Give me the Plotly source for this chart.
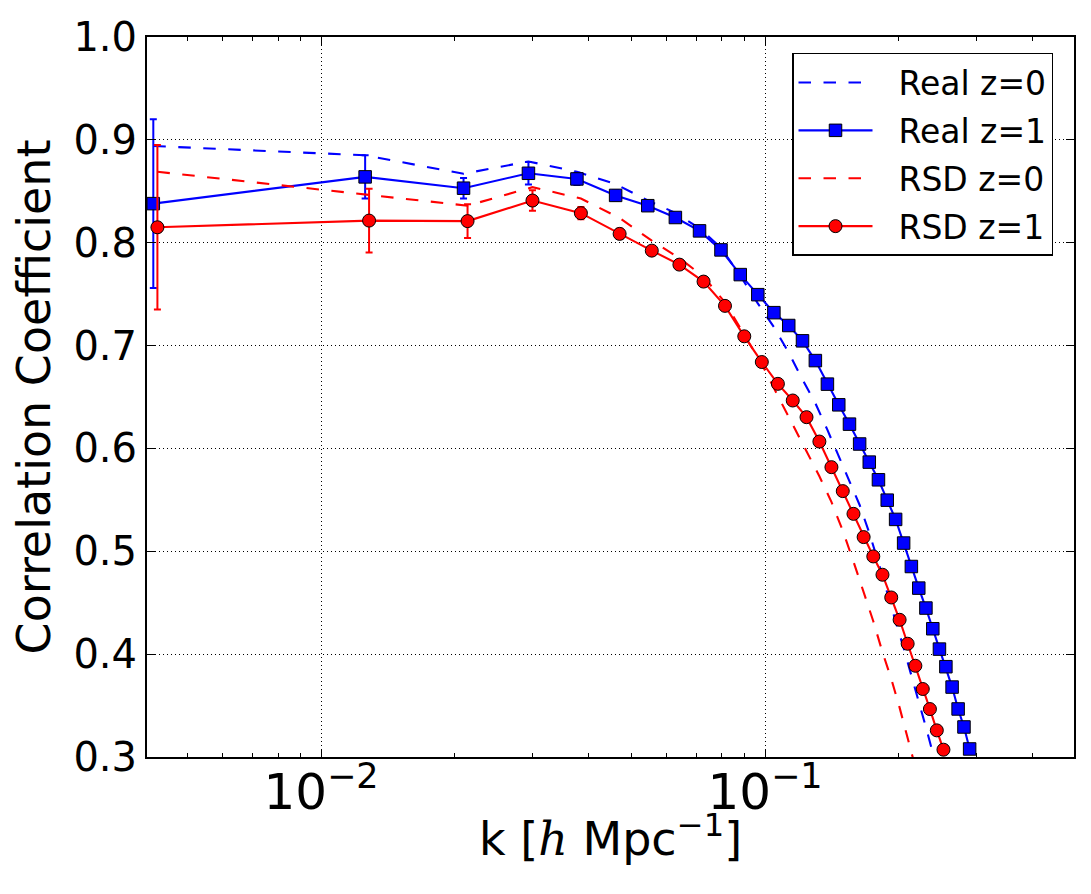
import plotly.graph_objects as go

# wavenumber bins k [h/Mpc] (real-space series)
k = [0.00419, 0.01257, 0.02094, 0.02932, 0.03770, 0.04608, 0.05445, 0.06283,
     0.07121, 0.07959, 0.08796, 0.09634, 0.10472, 0.11310, 0.12147, 0.12985,
     0.13823, 0.14661, 0.15498, 0.16336, 0.17174, 0.18012, 0.18850, 0.19687,
     0.20525, 0.21363, 0.22201, 0.23038, 0.23876, 0.24714, 0.25552, 0.26389,
     0.27227, 0.28065, 0.28903]

# RSD series are plotted with a slight offset in k
k_rsd = [0.00428, 0.01283, 0.02138, 0.02994, 0.03849, 0.04705, 0.05559, 0.06415,
         0.07271, 0.08126, 0.08981, 0.09836, 0.10692, 0.11548, 0.12402, 0.13258,
         0.14113, 0.14969, 0.15823, 0.16679, 0.17535, 0.18390, 0.19246, 0.20100,
         0.20956, 0.21812, 0.22667, 0.23522, 0.24377, 0.25233]

real_z0 = [0.894, 0.885, 0.867, 0.879, 0.869, 0.857, 0.841, 0.829, 0.814, 0.795,
           0.768, 0.741, 0.718, 0.693, 0.667, 0.644, 0.618, 0.593, 0.568, 0.545,
           0.518, 0.489, 0.459, 0.432, 0.406, 0.380, 0.355, 0.329, 0.304, 0.278]

real_z1 = [0.838, 0.864, 0.853, 0.8675, 0.862, 0.846, 0.836, 0.8245, 0.8115, 0.793,
           0.769, 0.7495, 0.732, 0.7195, 0.7046, 0.6854, 0.6625, 0.6424, 0.6236, 0.6043,
           0.5867, 0.5695, 0.5497, 0.531, 0.508, 0.4852, 0.4642, 0.4448, 0.4247, 0.4049,
           0.3878, 0.368, 0.3467, 0.3292, 0.3078]
real_z1_err = [0.082, 0.021, 0.010, 0.011, 0.006, 0.005, 0.004, 0.004, 0.003, 0.003,
               0.003, 0.003, 0.002, 0.002, 0.002, 0.002, 0.002, 0.002, 0.002, 0.002,
               0.002, 0.002, 0.002, 0.002, 0.002, 0.002, 0.002, 0.002, 0.002, 0.002,
               0.002, 0.002, 0.002, 0.002, 0.002]

rsd_z0 = [0.869, 0.8465, 0.836, 0.854, 0.843, 0.824, 0.802, 0.785, 0.767, 0.742,
          0.711, 0.682, 0.651, 0.623, 0.597, 0.573, 0.548, 0.520, 0.490, 0.460,
          0.432, 0.402, 0.376, 0.348, 0.318, 0.290]

rsd_z1 = [0.815, 0.8215, 0.821, 0.841, 0.8287, 0.8086, 0.7923, 0.7787, 0.7622, 0.7386,
          0.709, 0.684, 0.6628, 0.6466, 0.6304, 0.6067, 0.5818, 0.5585, 0.5364, 0.5138,
          0.495, 0.4772, 0.4551, 0.4334, 0.4101, 0.3887, 0.3661, 0.3466, 0.3259, 0.3071]
rsd_z1_err = [0.080, 0.031, 0.0165, 0.010, 0.006, 0.005, 0.004, 0.004, 0.003, 0.003,
              0.003, 0.003, 0.002, 0.002, 0.002, 0.002, 0.002, 0.002, 0.002, 0.002,
              0.002, 0.002, 0.002, 0.002, 0.002, 0.002, 0.002, 0.002, 0.002, 0.002]

y_ticks = [0.3, 0.4, 0.5, 0.6, 0.7, 0.8, 0.9, 1.0]

BLUE = "#0000ff"
RED = "#ff0000"
FONT = "DejaVu Sans"
DASH = "12.5px,12.5px"
PAD = "\u00a0\u00a0"

fig = go.Figure()
fig.add_trace(go.Scatter(
    x=k[:len(real_z0)], y=real_z0, mode="lines", name=PAD + "Real z=0",
    line=dict(color=BLUE, width=2.1, dash=DASH), legendgroup="a"))
fig.add_trace(go.Scatter(
    x=k[:len(real_z1)], y=real_z1, mode="lines+markers", name=PAD + "Real z=1",
    line=dict(color=BLUE, width=2.1),
    marker=dict(symbol="square", size=12.5, color=BLUE, line=dict(color="black", width=1)),
    error_y=dict(type="data", array=real_z1_err, color=BLUE, thickness=2, width=3.5),
    legendgroup="b"))
fig.add_trace(go.Scatter(
    x=k_rsd[:len(rsd_z0)], y=rsd_z0, mode="lines", name=PAD + "RSD z=0",
    line=dict(color=RED, width=2.1, dash=DASH), legendgroup="c"))
fig.add_trace(go.Scatter(
    x=k_rsd[:len(rsd_z1)], y=rsd_z1, mode="lines+markers", name=PAD + "RSD z=1",
    line=dict(color=RED, width=2.1),
    marker=dict(symbol="circle", size=13, color=RED, line=dict(color="black", width=1)),
    error_y=dict(type="data", array=rsd_z1_err, color=RED, thickness=2, width=3.5),
    legendgroup="d"))

axis_common = dict(
    showline=True, linewidth=2, linecolor="black", mirror="ticks",
    ticks="inside", ticklen=8, tickwidth=1, tickcolor="black",
    showgrid=True, gridcolor="black", gridwidth=1, griddash="1px,3px",
    zeroline=False, tickfont=dict(family=FONT, size=40, color="black"),
)

fig.update_layout(
    width=1091, height=894,
    margin=dict(l=147, r=17, t=37, b=137),
    paper_bgcolor="white", plot_bgcolor="white",
    font=dict(family=FONT, color="black"),
    xaxis=dict(
        type="log", range=[-2.392, -0.304], dtick=1, exponentformat="power",
        ticklabelstandoff=-8,
        minor=dict(ticks="inside", ticklen=4, tickwidth=1, tickcolor="black",
                   dtick="D1", showgrid=False),
        **axis_common),
    yaxis=dict(
        range=[0.3, 1.0], tickvals=y_ticks, tickformat=".1f",
        title=dict(text="Correlation Coefficient", font=dict(family=FONT, size=46), standoff=8),
        **axis_common),
    legend=dict(
        x=0.6958, y=0.9778, xanchor="left", yanchor="top",
        bordercolor="black", borderwidth=1.5, bgcolor="white",
        font=dict(family=FONT, size=33, color="black"),
        itemwidth=74, tracegroupgap=2),
    showlegend=True,
    annotations=[dict(
        text='k [<span style="font-family:DejaVu Serif"><i>h</i></span> Mpc<sup>−1</sup>]',
        xref="paper", yref="paper", x=0.5, y=-0.11, xanchor="center", yanchor="middle",
        showarrow=False, font=dict(family=FONT, size=46, color="black"))],
)

fig.write_html("out.html")
